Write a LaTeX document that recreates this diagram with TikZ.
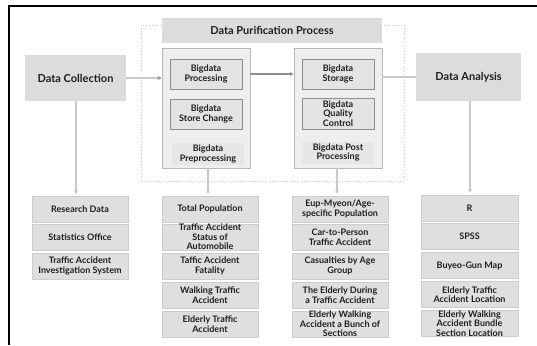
\documentclass[tikz,border=0pt]{standalone}
\usepackage{fontspec}
\setmainfont{Lato}
\usetikzlibrary{arrows.meta}
\definecolor{boxfill}{HTML}{DFDFDF}
\definecolor{headfill}{HTML}{DCDCDC}
\definecolor{groupfill}{HTML}{EEEEEE}
\definecolor{groupline}{HTML}{B8B8B8}
\definecolor{innerfill}{HTML}{E3E3E3}
\definecolor{innerline}{HTML}{8E8E8E}
\definecolor{linkgray}{HTML}{C9C9C9}
\definecolor{txt}{HTML}{1E1E1E}
\tikzset{
  base/.style={inner sep=0pt, align=center, text=txt, font=\bfseries\fontsize{9}{9.6}\selectfont},
  head/.style={base, fill=headfill, font=\bfseries\fontsize{11}{12}\selectfont},
  group/.style={draw=groupline, line width=0.8pt, fill=groupfill, minimum width=88pt, minimum height=120pt},
  inner/.style={base, draw=innerline, line width=0.9pt, fill=innerfill, minimum width=72pt, minimum height=30pt},
  caption/.style={base, fill=innerfill!70!groupfill, minimum width=72pt, minimum height=22pt},
  item/.style={base, fill=boxfill, draw=boxfill!92!black, line width=0.3pt, minimum width=96pt, minimum height=26pt},
  link/.style={draw=linkgray, line width=1.1pt},
  tip/.style={-{Stealth[length=4pt,width=4pt]}},
}
\begin{document}
\begin{tikzpicture}[x=1pt,y=-1pt]
\useasboundingbox (0,0) rectangle (537,345);
% outer frame (top and left edges)
\draw[line width=1.3pt, black] (9,345) -- (9,6) -- (537,6);

% dotted outline of the purification stage
\draw[linkgray, dotted, line width=0.9pt] (141,25) rectangle (404,181);

% main stages
\node[head, minimum width=101pt, minimum height=46pt] (collect) at (75.5,78) {Data Collection};
\node[head, minimum width=220pt, minimum height=25pt] (purify) at (272,30.5) {Data Purification Process};
\node[head, minimum width=105pt, minimum height=48pt] (analysis) at (468.5,77) {Data Analysis};

% preprocessing group
\node[group] (pre) at (206,108) {};
\node[inner] (proc) at (206,74) {Bigdata\\Processing};
\node[inner] (store) at (206,114) {Bigdata\\Store Change};
\node[caption] (precap) at (208,154) {Bigdata\\Preprocessing};

% post processing group
\node[group] (post) at (338,108) {};
\node[inner] (storage) at (338,74) {Bigdata\\Storage};
\node[inner, minimum height=31pt] (quality) at (338,113.5) {Bigdata\\Quality\\Control};
\node[caption] (postcap) at (338,152.5) {Bigdata Post\\Processing};

% connectors between stages
\draw[link, -{Stealth[length=4pt,width=4pt,color=innerline]}] (collect.east) -- (pre.west |- collect.east);
\draw[draw=innerline, line width=1.1pt, tip] (pre.east |- proc.east) -- (post.west |- proc.east);
\draw[link] (post.east |- analysis.west) -- (analysis.west);

% column 1: data collection sources
\node[item] (c1a) at (80,209) {Research Data};
\node[item] (c1b) at (80,237) {Statistics Office};
\node[item] (c1c) at (80,266) {Traffic Accident\\Investigation System};

% column 2: preprocessing outputs
\node[item] (c2a) at (210,209) {Total Population};
\node[item] (c2b) at (210,237) {Traffic Accident\\Status of\\Automobile};
\node[item] (c2c) at (210,266) {Taffic Accident\\Fatality};
\node[item] (c2d) at (210,295) {Walking Traffic\\Accident};
\node[item] (c2e) at (210,324) {Elderly Traffic\\Accident};

% column 3: post processing outputs
\node[item] (c3a) at (340,209) {Eup-Myeon/Age-\\specific Population};
\node[item] (c3b) at (340,237) {Car-to-Person\\Traffic Accident};
\node[item] (c3c) at (340,266) {Casualties by Age\\Group};
\node[item] (c3d) at (340,295) {The Elderly During\\a Traffic Accident};
\node[item] (c3e) at (340,324) {Elderly Walking\\Accident a Bunch of\\Sections};

% column 4: analysis tools
\node[item, minimum width=97pt] (c4a) at (469.5,208) {R};
\node[item, minimum width=97pt] (c4b) at (469.5,236.5) {SPSS};
\node[item, minimum width=97pt] (c4c) at (469.5,265.5) {Buyeo-Gun Map};
\node[item, minimum width=97pt] (c4d) at (469.5,294.5) {Elderly Traffic\\Accident Location};
\node[item, minimum width=97pt] (c4e) at (469.5,323.5) {Elderly Walking\\Accident Bundle\\Section Location};

% drops to the columns
\draw[link, tip, shorten >=2pt] (collect.south -| 76,0) -- (76,196);
\draw[link, tip, shorten >=2pt] (pre.south -| 208,0) -- (c2a.north -| 208,0);
\draw[link, tip, shorten >=2pt] (post.south -| 337,0) -- (c3a.north -| 337,0);
\draw[link, tip, shorten >=2pt] (analysis.south -| 470,0) -- (c4a.north -| 470,0);
\end{tikzpicture}
\end{document}
